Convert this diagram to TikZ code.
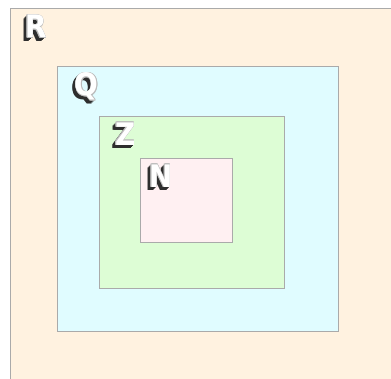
\documentclass[tikz,border=0pt]{standalone}
\usepackage{fontspec}
\newfontfamily\lblfont{DejaVu Sans Condensed}
\definecolor{rfill}{HTML}{FFF2E0}
\definecolor{qfill}{HTML}{E0FCFF}
\definecolor{zfill}{HTML}{DDFDD5}
\definecolor{nfill}{HTML}{FFF0F2}
\definecolor{edge}{HTML}{AAAAAA}
\definecolor{shade}{HTML}{2E2E2E}
\definecolor{rim}{HTML}{BBBBBB}
\newcommand{\lyr}[4]{\makebox[0pt][l]{\hspace*{#1}\raisebox{#2}{\textcolor{#3}{#4}}}}
\newcommand{\fancy}[1]{%
  \lyr{-3.5pt}{-3.5pt}{shade}{#1}\lyr{-3pt}{-3pt}{shade}{#1}%
  \lyr{-2.5pt}{-2.5pt}{shade}{#1}\lyr{-2pt}{-2pt}{shade}{#1}%
  \lyr{-1.5pt}{-1.5pt}{shade}{#1}\lyr{-1pt}{-1pt}{shade}{#1}%
  \lyr{0.6pt}{0pt}{rim}{#1}\lyr{-0.6pt}{0pt}{rim}{#1}%
  \lyr{0pt}{0.6pt}{rim}{#1}\lyr{0pt}{-0.6pt}{rim}{#1}%
  \lyr{0.45pt}{0.45pt}{rim}{#1}\lyr{-0.45pt}{0.45pt}{rim}{#1}%
  \lyr{0.45pt}{-0.45pt}{rim}{#1}\lyr{-0.45pt}{-0.45pt}{rim}{#1}%
  \textcolor{white}{#1}}
\tikzset{
  setbox/.style={draw=edge, line width=1pt},
  lbl/.style={inner sep=0pt, font=\lblfont\bfseries\fontsize{31}{31}\selectfont},
}
\begin{document}
\begin{tikzpicture}[x=1pt,y=-1pt]
\useasboundingbox (0,0) rectangle (391,379);
\fill[white] (0,0) rectangle (391,379);
\draw[setbox, fill=rfill] (10.5,8.5) rectangle (402,392);
\draw[setbox, fill=qfill] (57,66.7) rectangle (338,332);
\draw[setbox, fill=zfill] (99.3,116.3) rectangle (284.7,288.3);
\draw[setbox, fill=nfill] (140.3,159) rectangle (232.7,243);
\node[lbl] (lR) at (36,28) {\fancy{R}};
\node[lbl] (lQ) at (86.5,88) {\fancy{Q}};
\node[lbl] (lZ) at (125.5,135.5) {\fancy{Z}};
\node[lbl] (lN) at (161,177.5) {\fancy{N}};
\end{tikzpicture}
\end{document}
